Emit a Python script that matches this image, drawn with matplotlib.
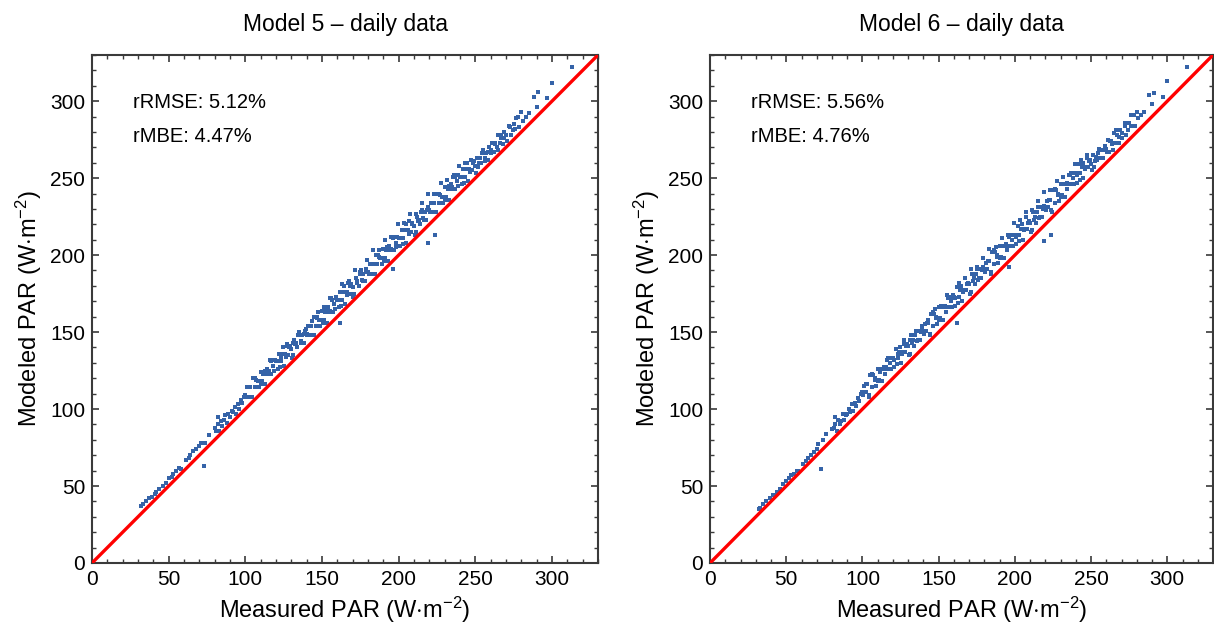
import matplotlib
matplotlib.use("Agg")
import matplotlib.pyplot as plt
from matplotlib.ticker import MultipleLocator

plt.rcParams["font.family"] = ["Liberation Sans", "DejaVu Sans"]
plt.rcParams["mathtext.fontset"] = "custom"
plt.rcParams["mathtext.rm"] = "Liberation Sans"
plt.rcParams["mathtext.it"] = "Liberation Sans:italic"

# Measured PAR (shared by both models)
measured = [
    32, 33, 35, 37, 39, 41, 42, 44, 46, 48, 50, 52, 53, 55, 57, 58, 61, 63, 64, 66, 68, 70, 71, 73, 74, 76,
    80, 81, 82, 82, 83, 84, 85, 86, 87, 88, 89, 90, 91, 92, 93, 94, 95, 96, 97, 98, 99,
    100, 101, 102, 103, 104, 105, 106, 107, 108, 109, 110, 111, 112, 113, 114, 115, 116, 117, 118, 119,
    120, 121, 122, 123, 124, 125, 126, 127, 128, 129, 130, 131, 132, 133, 134, 135, 136, 137, 138, 139,
    140, 141, 142, 143, 144, 145, 146, 147, 148, 149, 150, 151, 152, 153, 154, 155, 156, 157, 158, 159,
    160, 161, 162, 163, 164, 165, 166, 167, 168, 169, 170, 171, 172, 173, 174, 175, 176, 177, 178, 179,
    180, 181, 182, 183, 184, 185, 186, 187, 188, 189, 190, 191, 192, 193, 194, 195, 196, 197, 198, 199,
    200, 201, 202, 203, 204, 205, 206, 207, 208, 209, 210, 211, 212, 213, 214, 215, 216, 217, 218, 219,
    220, 221, 222, 223, 224, 225, 226, 227, 228, 229, 230, 231, 232, 233, 234, 235, 236, 237, 238, 239,
    240, 241, 242, 243, 244, 245, 246, 247, 248, 249,
    250, 251, 252, 253, 254, 255, 256, 257, 258, 259, 260, 261, 262, 263, 264, 265, 266, 267, 268, 269,
    270, 272, 273, 275, 276, 278, 280, 281, 283, 285,
    288, 290, 291, 297, 300, 313,
    162, 196, 219, 224,
    100.5, 102.5, 104.5, 106.5, 108.5, 110.5, 112.5, 114.5, 116.5, 118.5,
    120.5, 122.5, 124.5, 126.5, 128.5, 130.5, 132.5, 134.5, 136.5, 138.5,
    140.5, 142.5, 144.5, 146.5, 148.5, 150.5, 152.5, 154.5, 156.5, 158.5,
    160.5, 162.5, 164.5, 166.5, 168.5, 170.5, 172.5, 174.5, 176.5, 178.5,
    180.5, 182.5, 184.5, 186.5, 188.5, 190.5, 192.5, 194.5, 196.5, 198.5,
    200.5, 202.5, 204.5, 206.5, 208.5, 210.5, 212.5, 214.5, 216.5, 218.5,
    220.5, 222.5, 224.5, 226.5, 228.5, 230.5, 232.5, 234.5, 236.5, 238.5,
    240.5, 242.5, 244.5, 246.5, 248.5, 250.5, 252.5, 254.5, 256.5, 258.5,
    260.5, 262.5, 264.5, 266.5, 268.5, 270.5, 272.5, 274.5, 276.5, 278.5,
    111.3, 115.3, 119.3, 123.3, 127.3, 131.3, 135.3, 139.3, 143.3, 147.3,
    151.3, 155.3, 159.3, 163.3, 167.3, 171.3, 175.3, 179.3, 183.3, 187.3,
    191.3, 195.3, 199.3, 203.3, 207.3, 211.3, 215.3, 219.3, 223.3, 227.3,
    231.3, 235.3, 239.3, 243.3, 247.3,
]

# Modeled PAR, model 5
model5 = [
    37, 38, 40, 42, 43, 45, 46, 48, 50, 52, 55, 56, 58, 60, 62, 61, 67, 68, 70, 73, 74, 76, 78, 63, 78, 83,
    88, 86, 95, 90, 86, 92, 89, 93, 96, 91, 97, 95, 99, 98, 101, 97, 103, 100, 106, 104, 108,
    109, 114, 108, 114, 108, 120, 114, 119, 118, 114, 124, 118, 123, 116, 126, 124, 132, 123, 128, 132,
    131, 126, 136, 131, 136, 128, 136, 142, 135, 141, 139, 135, 145, 143, 140, 149, 144, 148, 143, 151,
    149, 154, 148, 154, 148, 160, 154, 159, 158, 154, 164, 158, 163, 156, 166, 164, 172, 163, 168, 172,
    171, 166, 176, 171, 176, 168, 176, 182, 175, 181, 179, 175, 185, 183, 180, 189, 184, 188, 183, 191,
    189, 194, 188, 194, 188, 200, 194, 199, 198, 194, 204, 198, 203, 196, 206, 204, 212, 203, 208, 212,
    211, 206, 216, 211, 216, 208, 216, 222, 215, 221, 219, 215, 225, 223, 220, 229, 224, 228, 223, 231,
    229, 234, 228, 234, 228, 240, 234, 239, 238, 234, 244, 238, 243, 236, 246, 244, 252, 243, 248, 252,
    251, 246, 256, 251, 256, 248, 256, 262, 255, 261,
    258, 263, 257, 263, 260, 268, 263, 266, 262, 270, 268, 273, 267, 273, 270, 278, 273, 276, 272, 280,
    278, 284, 278, 285, 282, 290, 293, 287, 290, 292,
    303, 296, 306, 302, 312, 322,
    156, 191, 208, 213,
    108, 114, 108, 120, 118, 116, 125, 123, 131, 125,
    131, 127, 140, 134, 140, 133, 142, 148, 143, 149,
    148, 154, 148, 160, 158, 156, 165, 163, 171, 165,
    171, 167, 180, 174, 180, 173, 182, 188, 183, 189,
    188, 194, 188, 200, 198, 196, 205, 203, 211, 205,
    211, 207, 220, 214, 220, 213, 222, 228, 223, 229,
    228, 234, 228, 240, 238, 236, 245, 243, 251, 245,
    251, 247, 260, 254, 260, 253, 260, 266, 261, 267,
    266, 272, 268, 278, 276, 274, 283, 281, 289, 283,
    123, 125, 132, 134, 141, 143, 150, 152, 157, 163,
    166, 172, 173, 181, 183, 190, 190, 197, 203, 203,
    210, 212, 220, 221, 227, 227, 234, 240, 240, 247,
    249, 251, 258, 260, 262,
]

# Modeled PAR, model 6
model6 = [
    35, 36, 38, 40, 42, 44, 44, 46, 48, 51, 53, 55, 57, 58, 60, 60, 64, 66, 68, 70, 72, 74, 77, 61, 80, 84,
    87, 88, 95, 90, 86, 93, 90, 92, 97, 93, 96, 97, 100, 98, 103, 99, 104, 102, 107, 105, 110,
    111, 115, 111, 116, 109, 122, 114, 122, 120, 115, 126, 119, 126, 118, 127, 126, 132, 126, 130, 133,
    133, 127, 139, 133, 137, 130, 136, 145, 137, 142, 141, 136, 148, 145, 141, 151, 144, 151, 145, 152,
    151, 155, 151, 156, 149, 162, 154, 162, 160, 155, 166, 159, 166, 158, 167, 166, 172, 166, 170, 173,
    173, 167, 179, 173, 177, 170, 176, 185, 177, 182, 181, 176, 188, 185, 181, 191, 184, 191, 185, 192,
    191, 195, 191, 196, 189, 202, 194, 202, 200, 195, 206, 199, 206, 198, 207, 206, 212, 206, 210, 213,
    213, 207, 219, 213, 217, 210, 216, 225, 217, 222, 221, 216, 228, 225, 221, 231, 224, 231, 225, 232,
    231, 235, 231, 236, 229, 242, 234, 242, 240, 235, 246, 239, 246, 238, 247, 246, 252, 246, 250, 253,
    253, 247, 259, 253, 257, 250, 256, 265, 257, 262,
    259, 265, 257, 264, 262, 269, 263, 268, 263, 271, 269, 275, 267, 274, 272, 279, 273, 278, 273, 281,
    279, 286, 278, 286, 284, 291, 293, 289, 291, 293,
    304, 298, 305, 303, 313, 322,
    156, 192, 209, 213,
    109, 116, 108, 123, 119, 118, 126, 123, 133, 126,
    132, 129, 140, 137, 141, 135, 143, 148, 145, 150,
    149, 156, 148, 163, 159, 158, 166, 163, 173, 166,
    172, 169, 180, 177, 181, 175, 183, 188, 185, 190,
    189, 196, 188, 203, 199, 198, 206, 203, 213, 206,
    212, 209, 220, 217, 221, 215, 223, 228, 225, 230,
    229, 236, 228, 243, 239, 238, 246, 243, 253, 246,
    252, 249, 260, 257, 261, 255, 261, 266, 263, 268,
    267, 274, 268, 281, 277, 276, 284, 281, 291, 284,
    124, 127, 133, 136, 142, 145, 151, 154, 158, 165,
    167, 174, 174, 182, 185, 191, 192, 198, 204, 205,
    211, 213, 221, 223, 228, 229, 235, 241, 242, 248,
    251, 252, 259, 262, 263,
]

titles = ["Model 5 \u2013 daily data", "Model 6 \u2013 daily data"]
rrmse = ["5.12%", "5.56%"]
rmbe = ["4.47%", "4.76%"]

fig = plt.figure(figsize=(12.14, 6.33), dpi=100)
ax1 = fig.add_axes([0.0758, 0.1106, 0.4168, 0.8026])
ax2 = fig.add_axes([0.5849, 0.1106, 0.4143, 0.8026])

for ax, ys, title, e1, e2 in zip([ax1, ax2], [model5, model6], titles, rrmse, rmbe):
    ax.plot([0, 330], [0, 330], color="#ff0000", lw=2.4, zorder=3)
    ax.scatter(measured, ys, s=7, marker="s", color="#3563a8", linewidths=0, zorder=2)

    ax.set_xlim(0, 330)
    ax.set_ylim(0, 330)
    ax.xaxis.set_major_locator(MultipleLocator(50))
    ax.yaxis.set_major_locator(MultipleLocator(50))
    ax.xaxis.set_minor_locator(MultipleLocator(10))
    ax.yaxis.set_minor_locator(MultipleLocator(10))
    ax.tick_params(which="both", direction="in", top=True, right=True,
                   color="#3a3a3a", labelsize=15)
    ax.tick_params(which="major", length=5, width=1.2, pad=5)
    ax.tick_params(which="minor", length=2.8, width=1.0)
    for sp in ax.spines.values():
        sp.set_color("#3a3a3a")
        sp.set_linewidth(1.5)

    ax.set_title(title, fontsize=16.5, pad=17)
    ax.set_xlabel(r"Measured PAR (W$\cdot$m$^{-2}$)", fontsize=17, labelpad=4)
    ax.set_ylabel(r"Modeled PAR (W$\cdot$m$^{-2}$)", fontsize=17, labelpad=4)

    ax.text(27, 299, "rRMSE: " + e1, fontsize=14.5, va="center", ha="left")
    ax.text(27, 277, "rMBE: " + e2, fontsize=14.5, va="center", ha="left")

plt.savefig("out.png", dpi=100)
